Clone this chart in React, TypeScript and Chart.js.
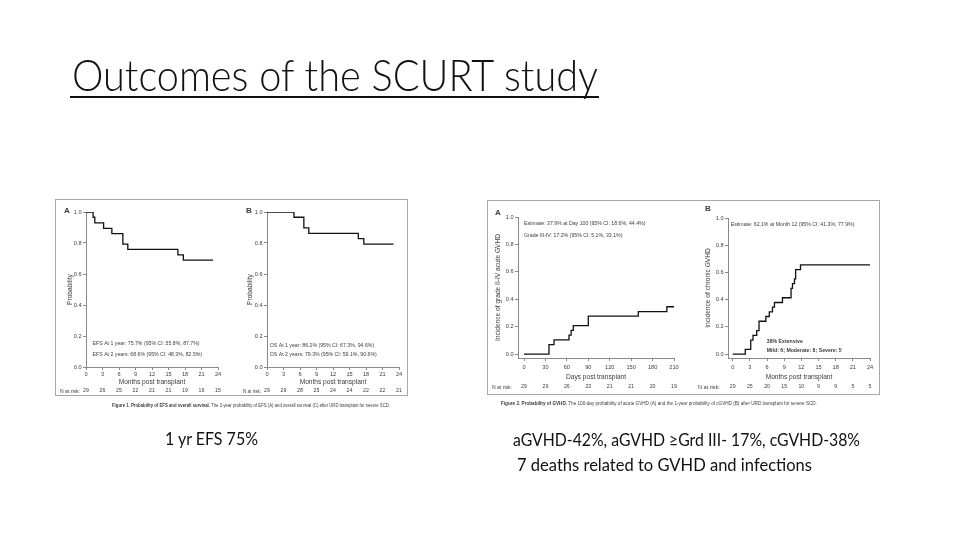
import React, { useEffect, useRef } from "react";
import { Chart, registerables } from "chart.js";

Chart.register(...registerables);
Chart.defaults.font.family = '"Liberation Sans", Arial, sans-serif';

// ---------- data ----------
const monthTicks = [0, 3, 6, 9, 12, 15, 18, 21, 24];
const dayTicks = [0, 30, 60, 90, 120, 150, 180, 210];
const probTicks = [0, 0.2, 0.4, 0.6, 0.8, 1.0];

const efsMonths = [0, 1.3, 1.6, 3.2, 4.7, 6.7, 7.6, 16.7, 17.7, 23.1];
const efsProb = [1.0, 0.966, 0.93, 0.895, 0.861, 0.793, 0.759, 0.724, 0.69, 0.69];
const efsAtRisk = [29, 26, 25, 22, 21, 21, 19, 19, 15];

const osMonths = [0, 4.9, 6.7, 7.6, 16.6, 17.6, 23.0];
const osProb = [1.0, 0.966, 0.897, 0.862, 0.828, 0.793, 0.793];
const osAtRisk = [29, 29, 28, 25, 24, 24, 22, 22, 21];

const agvhdDays = [0, 35, 42, 63, 66, 69, 90, 160, 200, 210];
const agvhdInc = [0, 0.069, 0.103, 0.138, 0.172, 0.207, 0.276, 0.31, 0.345, 0.345];
const agvhdAtRisk = [29, 29, 26, 23, 21, 21, 20, 19];

const cgvhdMonths = [0, 2.2, 3.15, 3.55, 4.2, 4.6, 5.8, 6.4, 6.95, 7.3, 8.7, 10.2, 10.45, 10.8, 11.0, 11.85, 24.0];
const cgvhdInc = [0, 0.034, 0.103, 0.138, 0.172, 0.241, 0.276, 0.31, 0.345, 0.379, 0.414, 0.483, 0.517, 0.552, 0.621, 0.655, 0.655];
const cgvhdAtRisk = [29, 25, 20, 15, 10, 9, 9, 5, 5];

// ---------- panel configuration ----------
type Note = { text: string; x: number; y: number; bold?: boolean };
type PanelCfg = {
  rect: [number, number, number, number];
  pad: { left: number; right: number; top: number; bottom: number };
  yWidth: number;
  xHeight: number;
  xs: number[];
  ys: number[];
  xMin: number;
  xMax: number;
  yMin: number;
  xTicks: number[];
  atRisk: number[];
  atRiskDy: number;
  tickPadX: number;
  xTitle: string;
  yTitle: string;
  notes: Note[];
};

const panels: PanelCfg[] = [
  {
    rect: [56, 200, 184, 195],
    pad: { left: 10, right: 22, top: 12, bottom: 9 },
    yWidth: 20,
    xHeight: 19,
    xs: efsMonths,
    ys: efsProb,
    xMin: 0,
    xMax: 24,
    yMin: 0,
    xTicks: monthTicks,
    atRisk: efsAtRisk,
    atRiskDy: 24,
    tickPadX: 1.5,
    xTitle: "Months post transplant",
    yTitle: "Probability",
    notes: [
      { text: "EFS At 1 year: 75.7% (95% CI: 55.8%, 87.7%)", x: 1.2, y: 0.148 },
      { text: "EFS At 2 years: 68.6% (95% CI: 48.3%, 82.5%)", x: 1.2, y: 0.077 },
    ],
  },
  {
    rect: [240, 200, 166, 195],
    pad: { left: 6, right: 7, top: 12, bottom: 9 },
    yWidth: 21,
    xHeight: 19,
    xs: osMonths,
    ys: osProb,
    xMin: 0,
    xMax: 24,
    yMin: 0,
    xTicks: monthTicks,
    atRisk: osAtRisk,
    atRiskDy: 24,
    tickPadX: 1.5,
    xTitle: "Months post transplant",
    yTitle: "Probability",
    notes: [
      { text: "OS At 1 year: 86.2% (95% CI: 67.3%, 94.6%)", x: 0.5, y: 0.14 },
      { text: "OS At 2 years: 79.3% (95% CI: 59.1%, 90.6%)", x: 0.5, y: 0.078 },
    ],
  },
  {
    rect: [488, 201, 200, 193],
    pad: { left: 6, right: 14, top: 16, bottom: 13 },
    yWidth: 24,
    xHeight: 23,
    xs: agvhdDays,
    ys: agvhdInc,
    xMin: -8.4,
    xMax: 210,
    yMin: -0.029,
    xTicks: dayTicks,
    atRisk: agvhdAtRisk,
    atRiskDy: 29,
    tickPadX: 3.5,
    xTitle: "Days post transplant",
    yTitle: "Incidence of grade II-IV acute GVHD",
    notes: [
      { text: "Estimate: 37.9% at Day 100 (95% CI: 18.6%, 44.4%)", x: 0, y: 0.952 },
      { text: "Grade III-IV: 17.2% (95% CI: 5.1%, 33.1%)", x: 0, y: 0.867 },
    ],
  },
  {
    rect: [688, 201, 190, 193],
    pad: { left: 16, right: 8, top: 17, bottom: 13 },
    yWidth: 24,
    xHeight: 23,
    xs: cgvhdMonths,
    ys: cgvhdInc,
    xMin: -0.82,
    xMax: 24,
    yMin: -0.029,
    xTicks: monthTicks,
    atRisk: cgvhdAtRisk,
    atRiskDy: 29,
    tickPadX: 3.5,
    xTitle: "Months post transplant",
    yTitle: "Incidence of chronic GVHD",
    notes: [
      { text: "Estimate: 62.1% at Month 12 (95% CI: 41.3%, 77.9%)", x: -0.35, y: 0.952 },
      { text: "38% Extensive", x: 5.96, y: 0.095, bold: true },
      { text: "Mild: 6; Moderate: 8; Severe: 5", x: 5.96, y: 0.029, bold: true },
    ],
  },
];

const AXIS_GREY = "#8a8a8a";
const TEXT_GREY = "#3c3c3c";

function KMPanel({ cfg }: { cfg: PanelCfg }) {
  const ref = useRef<HTMLCanvasElement | null>(null);
  const [left, top, w, h] = cfg.rect;
  useEffect(() => {
    if (!ref.current) return;
    const pts = cfg.xs.map((x, i) => ({ x, y: cfg.ys[i] }));
    const notesPlugin = {
      id: "notes",
      afterDatasetsDraw(chart: any) {
        const { ctx, chartArea } = chart;
        const xs = chart.scales.x;
        const ys = chart.scales.y;
        ctx.save();
        ctx.fillStyle = TEXT_GREY;
        ctx.textBaseline = "middle";
        ctx.textAlign = "left";
        for (const n of cfg.notes) {
          ctx.font = `${n.bold ? "bold " : ""}5.2px "Liberation Sans", Arial, sans-serif`;
          ctx.fillText(n.text, xs.getPixelForValue(n.x), ys.getPixelForValue(n.y));
        }
        ctx.textAlign = "center";
        ctx.font = '5.2px "Liberation Sans", Arial, sans-serif';
        cfg.atRisk.forEach((v, i) => {
          ctx.fillText(String(v), xs.getPixelForValue(cfg.xTicks[i]), chartArea.bottom + cfg.atRiskDy);
        });
        ctx.restore();
      },
    };
    const chart = new Chart(ref.current, {
      type: "line",
      data: {
        datasets: [
          {
            data: pts,
            stepped: true,
            borderColor: "#111111",
            borderWidth: 1.3,
            pointRadius: 0,
            fill: false,
          },
        ],
      },
      options: {
        responsive: false,
        maintainAspectRatio: false,
        animation: false,
        layout: { padding: cfg.pad },
        plugins: { legend: { display: false }, tooltip: { enabled: false } },
        scales: {
          x: {
            type: "linear",
            min: cfg.xMin,
            max: cfg.xMax,
            afterBuildTicks: (s: any) => {
              s.ticks = cfg.xTicks.map((v) => ({ value: v }));
            },
            afterFit: (s: any) => {
              s.height = cfg.xHeight;
            },
            ticks: {
              autoSkip: false,
              maxRotation: 0,
              padding: cfg.tickPadX,
              color: TEXT_GREY,
              font: { size: 5.6 },
              callback: (v: any) => String(v),
            },
            grid: { display: true, drawOnChartArea: false, drawTicks: true, tickLength: 3, color: AXIS_GREY },
            border: { display: true, color: AXIS_GREY, width: 1 },
            title: { display: true, text: cfg.xTitle, color: TEXT_GREY, font: { size: 6.6 }, padding: 0 },
          },
          y: {
            type: "linear",
            min: cfg.yMin,
            max: 1,
            afterBuildTicks: (s: any) => {
              s.ticks = probTicks.map((v) => ({ value: v }));
            },
            afterFit: (s: any) => {
              s.width = cfg.yWidth;
            },
            ticks: {
              padding: 1.5,
              color: TEXT_GREY,
              font: { size: 5.6 },
              callback: (v: any) => Number(v).toFixed(1),
            },
            grid: { display: true, drawOnChartArea: false, drawTicks: true, tickLength: 3, color: AXIS_GREY },
            border: { display: true, color: AXIS_GREY, width: 1 },
            title: { display: true, text: cfg.yTitle, color: TEXT_GREY, font: { size: 6.6 }, padding: 0 },
          },
        },
      },
      plugins: [notesPlugin],
    } as any);
    return () => chart.destroy();
  }, []);
  return (
    <canvas
      ref={ref}
      width={w}
      height={h}
      style={{ position: "absolute", left, top, width: w, height: h }}
    />
  );
}

const small = { fontFamily: '"Liberation Sans", Arial, sans-serif', fill: TEXT_GREY } as const;
const body = { fontFamily: 'Lato, "Open Sans", sans-serif', fill: "#111" } as const;

export default function App() {
  useEffect(() => {
    document.body.style.margin = "0";
  }, []);
  return (
    <div style={{ position: "fixed", left: 0, top: 0, width: 960, height: 540, background: "#fff", overflow: "hidden" }}>
      {/* figure frames */}
      <div style={{ position: "absolute", left: 55, top: 199, width: 353, height: 197, border: "1px solid #a8a8a8", boxSizing: "border-box" }} />
      <div style={{ position: "absolute", left: 487, top: 200, width: 393, height: 195, border: "1px solid #a8a8a8", boxSizing: "border-box" }} />
      {panels.map((p, i) => (
        <KMPanel key={i} cfg={p} />
      ))}
      <svg width={960} height={540} style={{ position: "absolute", left: 0, top: 0, pointerEvents: "none" }}>
        <text x={72} y={91} fontSize={44} fontWeight={300} textLength={526} lengthAdjust="spacingAndGlyphs" style={body}>
          Outcomes of the SCURT study
        </text>
        <line x1={70} x2={599} y1={97} y2={97} stroke="#111" strokeWidth={2} />

        {/* panel letters */}
        <text x={64} y={213} fontSize={8} fontWeight="bold" style={small}>A</text>
        <text x={246} y={213} fontSize={8} fontWeight="bold" style={small}>B</text>
        <text x={495} y={215} fontSize={8} fontWeight="bold" style={small}>A</text>
        <text x={705} y={211} fontSize={8} fontWeight="bold" style={small}>B</text>

        {/* number at risk labels */}
        <text x={60} y={393} fontSize={4.8} textLength={20} lengthAdjust="spacingAndGlyphs" style={small}>N at risk:</text>
        <text x={243} y={393} fontSize={4.8} textLength={18} lengthAdjust="spacingAndGlyphs" style={small}>N at risk:</text>
        <text x={492} y={389} fontSize={4.8} textLength={20} lengthAdjust="spacingAndGlyphs" style={small}>N at risk:</text>
        <text x={698} y={389} fontSize={4.8} textLength={22} lengthAdjust="spacingAndGlyphs" style={small}>N at risk:</text>

        {/* figure captions */}
        <text x={112} y={407} fontSize={4.6} textLength={278} lengthAdjust="spacingAndGlyphs" style={small}>
          <tspan fontWeight="bold">Figure 1. Probability of EFS and overall survival.</tspan>
          <tspan> The 2-year probability of EFS (A) and overall survival (C) after URD transplant for severe SCD.</tspan>
        </text>
        <text x={501} y={405} fontSize={4.6} textLength={316} lengthAdjust="spacingAndGlyphs" style={small}>
          <tspan fontWeight="bold">Figure 2. Probability of GVHD.</tspan>
          <tspan> The 100-day probability of acute GVHD (A) and the 1-year probability of cGVHD (B) after URD transplant for severe SCD.</tspan>
        </text>

        {/* slide text */}
        <text x={165} y={445} fontSize={18} textLength={93} lengthAdjust="spacingAndGlyphs" style={body}>
          1 yr EFS 75%
        </text>
        <text x={513} y={446} fontSize={18} textLength={347} lengthAdjust="spacingAndGlyphs" style={body}>
          aGVHD-42%, aGVHD ≥Grd III- 17%, cGVHD-38%
        </text>
        <text x={517} y={471} fontSize={18} textLength={295} lengthAdjust="spacingAndGlyphs" style={body}>
          7 deaths related to GVHD and infections
        </text>
      </svg>
    </div>
  );
}
